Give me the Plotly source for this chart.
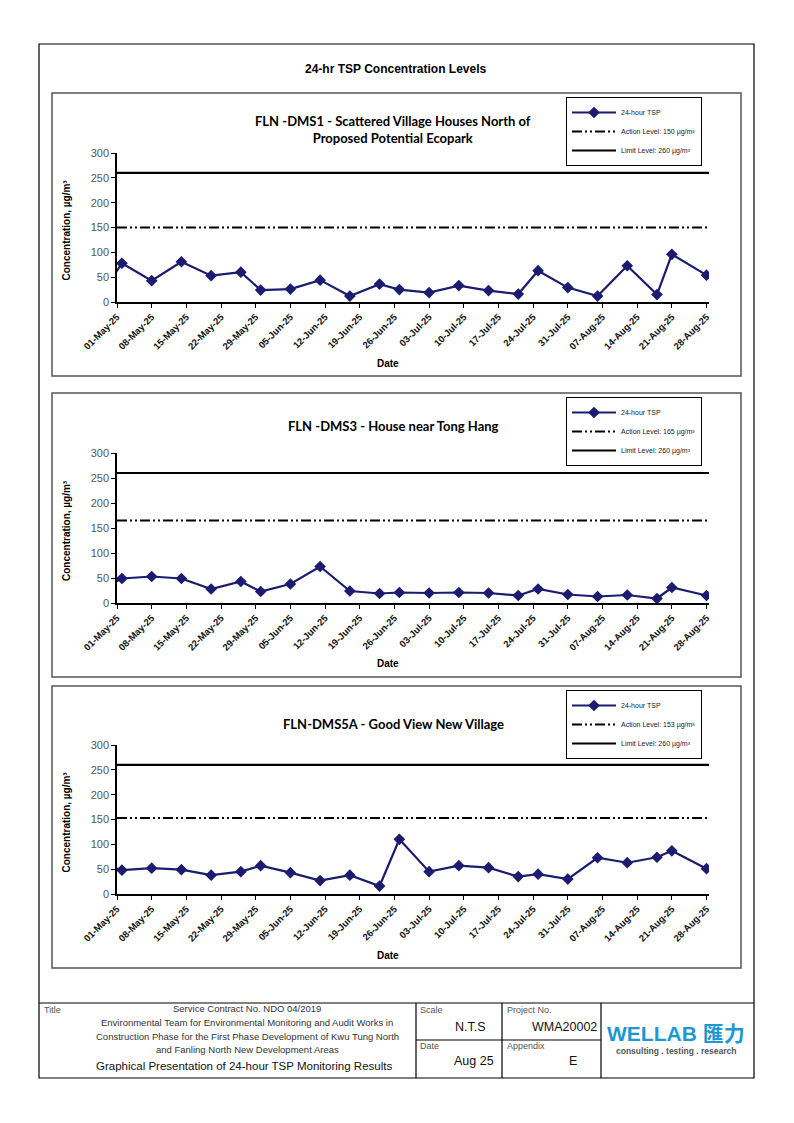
import plotly.graph_objects as go

# ---------------- data ----------------
sample_dates = ['2025-04-28', '2025-05-02', '2025-05-08', '2025-05-14', '2025-05-20', '2025-05-26',
                '2025-05-30', '2025-06-05', '2025-06-11', '2025-06-17', '2025-06-23', '2025-06-27',
                '2025-07-03', '2025-07-09', '2025-07-15', '2025-07-21', '2025-07-25', '2025-07-31',
                '2025-08-06', '2025-08-12', '2025-08-18', '2025-08-21', '2025-08-28']

tsp_dms1 = [18, 78, 43, 81, 53, 60, 24, 26, 44, 12, 36, 25, 19, 33, 23, 16, 63, 29, 12, 73, 15, 96, 54]
tsp_dms3 = [29, 49, 53, 49, 28, 43, 23, 38, 73, 24, 19, 21, 20, 21, 20, 15, 28, 17, 13, 16, 9, 31, 15]
tsp_dms5a = [60, 48, 52, 49, 38, 45, 57, 43, 27, 38, 16, 110, 45, 57, 53, 35, 40, 30, 73, 63, 74, 87, 51]

action_levels = [150, 165, 153]
limit_levels = [260, 260, 260]

chart_titles = ['FLN -DMS1 - Scattered Village Houses North of<br>Proposed Potential Ecopark',
                'FLN -DMS3 - House near Tong Hang',
                'FLN-DMS5A - Good View New Village']

tick_dates = ['2025-05-01', '2025-05-08', '2025-05-15', '2025-05-22', '2025-05-29', '2025-06-05',
              '2025-06-12', '2025-06-19', '2025-06-26', '2025-07-03', '2025-07-10', '2025-07-17',
              '2025-07-24', '2025-07-31', '2025-08-07', '2025-08-14', '2025-08-21', '2025-08-28']
tick_labels = ['01-May-25', '08-May-25', '15-May-25', '22-May-25', '29-May-25', '05-Jun-25',
               '12-Jun-25', '19-Jun-25', '26-Jun-25', '03-Jul-25', '10-Jul-25', '17-Jul-25',
               '24-Jul-25', '31-Jul-25', '07-Aug-25', '14-Aug-25', '21-Aug-25', '28-Aug-25']
x_range = ['2025-05-01', '2025-08-28 12:00']

# ---------------- layout helpers ----------------
W, H = 794, 1123
OFF = 8  # page body margin in the browser
def px(x):
    return (x - OFF) / W
def py(y):
    return 1 - (y - OFF) / H

NAVY = '#1B1B6F'
AX_FONT = 'Liberation Sans, Arial, sans-serif'
TITLE_FONT = 'Lato, Liberation Sans, sans-serif'

series = [tsp_dms1, tsp_dms3, tsp_dms5a]
plot_tb = [(153, 302), (453, 603), (745, 894)]
boxes = [(52, 93, 741, 376), (52, 393, 741, 677), (52, 686, 741, 968)]
title_y = [129, 426, 724]
date_y = [363, 663, 955]
legend_top = [97, 397, 690]

fig = go.Figure()
shapes = []
annotations = []

def ann(text, x, y, size, family=AX_FONT, color='black', xanchor='center', angle=0):
    annotations.append(dict(text=text, x=px(x), y=py(y), xref='paper', yref='paper',
                            showarrow=False, xanchor=xanchor, yanchor='middle', textangle=angle,
                            font=dict(family=family, size=size, color=color)))

for i in range(3):
    n = '' if i == 0 else str(i + 1)
    xa, ya = 'x' + n, 'y' + n
    lg = 'legend' if i == 0 else 'legend' + str(i + 1)
    fig.add_trace(go.Scatter(
        x=sample_dates, y=series[i], mode='lines+markers', name='24-hour TSP',
        line=dict(color=NAVY, width=2.2), marker=dict(symbol='diamond', size=9, color=NAVY),
        xaxis=xa, yaxis=ya, legend=lg, cliponaxis=True))
    fig.add_trace(go.Scatter(
        x=x_range, y=[action_levels[i]] * 2, mode='lines',
        name='Action Level: %d µg/m³' % action_levels[i],
        line=dict(color='black', width=2, dash='10px,3px,2px,3px,2px,3px'),
        xaxis=xa, yaxis=ya, legend=lg))
    fig.add_trace(go.Scatter(
        x=x_range, y=[limit_levels[i]] * 2, mode='lines',
        name='Limit Level: %d µg/m³' % limit_levels[i],
        line=dict(color='black', width=2.2),
        xaxis=xa, yaxis=ya, legend=lg))

    top, bot = plot_tb[i]
    fig.layout['xaxis' + n] = dict(
        domain=[px(117), px(709)], anchor=ya, type='date', range=x_range, automargin=False,
        tickmode='array', tickvals=tick_dates, ticktext=tick_labels, tickangle=-45,
        ticks='outside', ticklen=4, tickcolor='black', showline=True, linecolor='black',
        linewidth=1.5, showgrid=False, zeroline=False,
        tickfont=dict(family=AX_FONT, size=9.5, color='#111111', weight='bold'))
    fig.layout['yaxis' + n] = dict(
        domain=[py(bot), py(top)], anchor=xa, range=[0, 300], dtick=50, automargin=False,
        ticks='outside', ticklen=4, tickcolor='black', showline=True, linecolor='black',
        linewidth=1.5, showgrid=False, zeroline=False,
        tickfont=dict(family=AX_FONT, size=11, color='#555555'))
    fig.layout[lg] = dict(
        x=px(566), y=py(legend_top[i]), xanchor='left', yanchor='top',
        bgcolor='white', bordercolor='black', borderwidth=1,
        font=dict(family=AX_FONT, size=7, color='#222222'), itemwidth=44,
        tracegroupgap=0)

    x0, y0, x1, y1 = boxes[i]
    shapes.append(dict(type='rect', xref='paper', yref='paper', x0=px(x0), x1=px(x1),
                       y0=py(y0), y1=py(y1), line=dict(color='#555555', width=1.5)))
    ann('<b>%s</b>' % chart_titles[i], 393, title_y[i], 13, TITLE_FONT)
    ann('<b>Date</b>', 388, date_y[i], 10)
    ann('<b>Concentration, µg/m³</b>', 66, (top + bot) / 2 + 3, 10, angle=-90)

shapes.append(dict(type='rect', xref='paper', yref='paper', x0=px(39), x1=px(754),
                   y0=py(44), y1=py(1078), line=dict(color='black', width=1.2)))
for (xa0, ya0, xa1, ya1) in [(39, 1003, 754, 1003), (416, 1003, 416, 1078), (502, 1003, 502, 1078),
                             (601, 1003, 601, 1078), (416, 1040, 601, 1040)]:
    shapes.append(dict(type='line', xref='paper', yref='paper', x0=px(xa0), x1=px(xa1),
                       y0=py(ya0), y1=py(ya1), line=dict(color='black', width=1.2)))

ann('<b>24-hr TSP Concentration Levels</b>', 395, 69, 12)

ann('Title', 42, 1010, 9, color='#555555', xanchor='left')
ann('Service Contract No. NDO 04/2019', 247, 1009, 9.5, color='#333333')
ann('Environmental Team for Environmental Monitoring and Audit Works in', 247, 1022, 9.5, color='#333333')
ann('Construction Phase for the First Phase Development of Kwu Tung North', 247, 1036, 9.5, color='#333333')
ann('and Fanling North New Development Areas', 247, 1049, 9.5, color='#333333')
ann('Graphical Presentation of 24-hour TSP Monitoring Results', 244, 1066, 11.5, color='#111111')
ann('Scale', 418, 1010, 9, color='#555555', xanchor='left')
ann('N.T.S', 470, 1027, 12.5, color='#111111')
ann('Date', 418, 1046, 9, color='#555555', xanchor='left')
ann('Aug 25', 474, 1061, 12.5, color='#111111')
ann('Project No.', 505, 1010, 9, color='#555555', xanchor='left')
ann('WMA20002', 599, 1027, 12.5, color='#111111', xanchor='right')
ann('Appendix', 505, 1046, 9, color='#555555', xanchor='left')
ann('E', 573, 1061, 12.5, color='#111111')
ann('<b>WELLAB 匯力</b>', 676, 1033, 21, 'Liberation Sans, Noto Sans CJK TC, sans-serif', '#1E98D2')
ann('<b>consulting . testing . research</b>', 676, 1051, 8.5, color='#555555')

fig.update_layout(width=W, height=H, margin=dict(l=0, r=0, t=0, b=0, autoexpand=False),
                  template='none', paper_bgcolor='white', plot_bgcolor='white',
                  shapes=shapes, annotations=annotations, showlegend=True)

fig.write_html('out.html')
